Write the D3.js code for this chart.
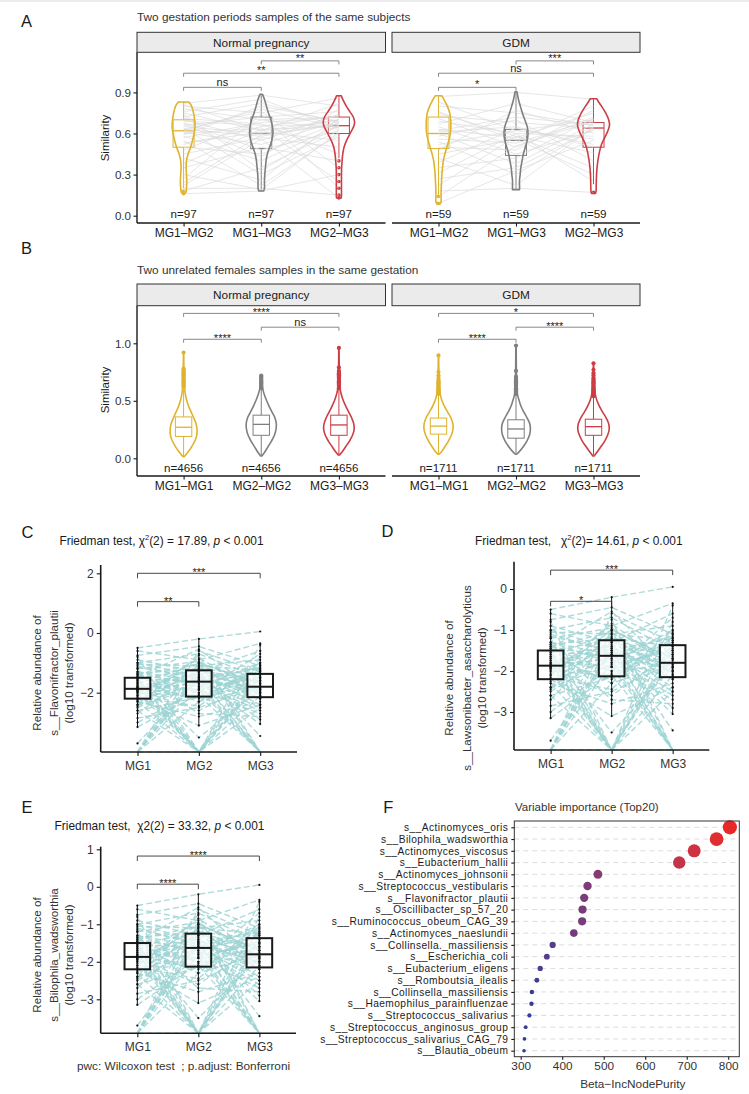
<!DOCTYPE html>
<html><head><meta charset="utf-8">
<script src="https://cdn.jsdelivr.net/npm/d3@7/dist/d3.min.js"></script>
<style>
body{margin:0;background:#fff;}
svg text{font-family:"Liberation Sans",Arial,Helvetica,sans-serif;}
</style></head><body>
<svg id="fig" width="749" height="1094" xmlns="http://www.w3.org/2000/svg"></svg>
<script>
// ================= DATA =================
const facetNames = ["Normal pregnancy", "GDM"];
const groupsA = ["MG1–MG2", "MG1–MG3", "MG2–MG3"];
const groupsB = ["MG1–MG1", "MG2–MG2", "MG3–MG3"];
const nCountsA = [97, 59];
const nCountsB = [4656, 1711];
const ticksA = [0, 0.3, 0.6, 0.9];
const ticksB = [0, 0.5, 1.0];
const groupColors = ["#DFB32E", "#7F7F7F", "#CC3D44"];

// Panel A paired similarity values (subset of subjects), Normal pregnancy
const pairN1 = [0.82,0.80,0.78,0.75,0.72,0.70,0.69,0.68,0.66,0.65,0.64,0.63,0.62,0.61,0.60,0.58,0.57,0.55,0.53,0.50,0.48,0.45,0.42,0.38,0.35,0.30,0.27,0.24,0.20,0.18,0.16,0.76,0.67,0.71,0.59,0.22,0.81,0.74,0.63,0.52];
const pairN2 = [0.88,0.75,0.70,0.62,0.82,0.55,0.66,0.48,0.72,0.60,0.30,0.58,0.78,0.52,0.64,0.40,0.68,0.22,0.61,0.45,0.70,0.57,0.26,0.63,0.50,0.19,0.74,0.59,0.20,0.35,0.18,0.85,0.43,0.67,0.80,0.56,0.62,0.33,0.76,0.65];
const pairN3 = [0.80,0.86,0.72,0.70,0.68,0.74,0.66,0.62,0.76,0.70,0.58,0.67,0.64,0.69,0.25,0.66,0.72,0.60,0.55,0.68,0.63,0.50,0.71,0.65,0.40,0.61,0.20,0.67,0.15,0.62,0.30,0.64,0.78,0.45,0.69,0.13,0.82,0.66,0.35,0.73];
// GDM
const pairG1 = [0.87,0.83,0.80,0.76,0.73,0.71,0.69,0.67,0.65,0.63,0.61,0.60,0.58,0.56,0.54,0.52,0.50,0.48,0.45,0.42,0.39,0.35,0.31,0.27,0.22,0.18,0.14,0.09,0.75,0.62];
const pairG2 = [0.90,0.62,0.75,0.55,0.68,0.50,0.60,0.82,0.45,0.57,0.65,0.38,0.70,0.53,0.30,0.62,0.48,0.77,0.56,0.22,0.64,0.42,0.60,0.35,0.58,0.20,0.51,0.33,0.58,0.72];
const pairG3 = [0.85,0.70,0.66,0.80,0.64,0.72,0.58,0.68,0.62,0.75,0.50,0.67,0.40,0.70,0.64,0.56,0.77,0.60,0.30,0.65,0.52,0.71,0.25,0.63,0.46,0.17,0.69,0.55,0.35,0.66];

// Violin density profiles [value, relative density]
const vioAN1 = [[0.16,0.05],[0.17,0.14],[0.20,0.18],[0.25,0.2],[0.30,0.18],[0.35,0.16],[0.40,0.18],[0.45,0.28],[0.50,0.44],[0.55,0.56],[0.60,0.66],[0.65,0.72],[0.70,0.69],[0.75,0.62],[0.80,0.5],[0.83,0.33]];
const vioAN2 = [[0.18,0.15],[0.20,0.2],[0.25,0.2],[0.30,0.22],[0.35,0.26],[0.40,0.3],[0.45,0.38],[0.50,0.52],[0.55,0.66],[0.60,0.73],[0.65,0.7],[0.70,0.6],[0.75,0.45],[0.80,0.32],[0.85,0.2],[0.886,0.08]];
const vioAN3 = [[0.13,0.15],[0.15,0.16],[0.20,0.16],[0.25,0.16],[0.30,0.16],[0.35,0.17],[0.40,0.2],[0.45,0.24],[0.50,0.32],[0.55,0.48],[0.60,0.7],[0.65,0.92],[0.68,0.98],[0.72,0.9],[0.76,0.68],[0.80,0.46],[0.84,0.28],[0.876,0.14]];
const vioAG1 = [[0.085,0.1],[0.10,0.16],[0.15,0.16],[0.20,0.17],[0.25,0.19],[0.30,0.21],[0.35,0.25],[0.40,0.3],[0.45,0.4],[0.50,0.52],[0.55,0.65],[0.60,0.74],[0.65,0.77],[0.70,0.76],[0.75,0.7],[0.80,0.55],[0.84,0.38],[0.876,0.2]];
const vioAG2 = [[0.19,0.22],[0.22,0.22],[0.26,0.22],[0.30,0.26],[0.35,0.3],[0.40,0.38],[0.45,0.46],[0.50,0.58],[0.55,0.7],[0.60,0.75],[0.65,0.7],[0.70,0.55],[0.75,0.4],[0.80,0.27],[0.85,0.15],[0.905,0.06]];
const vioAG3 = [[0.163,0.12],[0.18,0.16],[0.22,0.17],[0.27,0.18],[0.32,0.2],[0.37,0.24],[0.42,0.3],[0.47,0.38],[0.52,0.5],[0.57,0.7],[0.62,0.9],[0.66,1.0],[0.70,0.95],[0.75,0.76],[0.80,0.5],[0.83,0.32],[0.854,0.2]];
const vioBN1 = [[0.015,0.05],[0.05,0.25],[0.10,0.5],[0.15,0.7],[0.20,0.82],[0.25,0.84],[0.30,0.78],[0.35,0.64],[0.40,0.48],[0.45,0.32],[0.50,0.2],[0.55,0.12],[0.60,0.07],[0.70,0.04],[0.80,0.02],[0.92,0.01]];
const vioBN2 = [[0.02,0.04],[0.05,0.2],[0.10,0.42],[0.15,0.64],[0.20,0.82],[0.25,0.92],[0.30,0.94],[0.35,0.86],[0.40,0.68],[0.45,0.5],[0.50,0.34],[0.55,0.2],[0.60,0.1],[0.65,0.05],[0.72,0.02]];
const vioBN3 = [[0.03,0.04],[0.06,0.22],[0.10,0.42],[0.15,0.66],[0.20,0.85],[0.25,0.95],[0.30,0.93],[0.35,0.8],[0.40,0.62],[0.45,0.44],[0.50,0.28],[0.55,0.16],[0.60,0.08],[0.70,0.04],[0.80,0.02],[0.96,0.01]];
const vioBG1 = [[0.035,0.04],[0.06,0.2],[0.10,0.4],[0.15,0.62],[0.20,0.8],[0.25,0.9],[0.30,0.9],[0.35,0.78],[0.40,0.58],[0.45,0.38],[0.50,0.22],[0.55,0.12],[0.60,0.07],[0.70,0.04],[0.80,0.02],[0.895,0.01]];
const vioBG2 = [[0.035,0.04],[0.06,0.22],[0.10,0.45],[0.15,0.68],[0.20,0.84],[0.25,0.9],[0.30,0.86],[0.35,0.7],[0.40,0.5],[0.45,0.32],[0.50,0.2],[0.55,0.1],[0.60,0.06],[0.70,0.03],[0.80,0.02],[0.98,0.01]];
const vioBG3 = [[0.02,0.04],[0.05,0.2],[0.10,0.46],[0.15,0.7],[0.20,0.88],[0.25,0.98],[0.30,0.95],[0.35,0.8],[0.40,0.58],[0.45,0.38],[0.50,0.22],[0.55,0.12],[0.60,0.07],[0.70,0.03],[0.826,0.01]];

// Box stats [q1, median, q3, lower whisker, upper whisker]
const boxAN = [[0.50,0.62,0.70,0.20,0.83],[0.49,0.60,0.72,0.18,0.886],[0.60,0.657,0.72,0.42,0.876]];
const boxAG = [[0.49,0.60,0.72,0.145,0.876],[0.44,0.55,0.63,0.19,0.905],[0.50,0.64,0.68,0.23,0.854]];
const boxBN = [[0.19,0.27,0.36,0.02,0.60],[0.20,0.295,0.375,0.02,0.60],[0.20,0.29,0.375,0.03,0.60]];
const boxBG = [[0.21,0.28,0.35,0.04,0.55],[0.175,0.255,0.335,0.04,0.55],[0.20,0.275,0.34,0.03,0.53]];

// Panel B outliers
const outBN1 = [0.62,0.63,0.64,0.65,0.66,0.67,0.68,0.69,0.70,0.71,0.72,0.73,0.74,0.75,0.76,0.77,0.78,0.92];
const outBN2 = [0.61,0.62,0.63,0.64,0.65,0.66,0.67,0.68,0.69,0.70,0.71,0.72];
const outBN3 = [0.61,0.62,0.63,0.64,0.65,0.66,0.67,0.68,0.69,0.70,0.71,0.72,0.73,0.74,0.75,0.76,0.79,0.96];
const outBG1 = [0.56,0.57,0.58,0.59,0.60,0.61,0.62,0.63,0.64,0.65,0.66,0.67,0.68,0.70,0.72,0.75,0.895];
const outBG2 = [0.56,0.57,0.58,0.59,0.60,0.61,0.62,0.63,0.64,0.65,0.66,0.67,0.68,0.69,0.71,0.76,0.98];
const outBG3 = [0.54,0.55,0.56,0.57,0.58,0.59,0.60,0.61,0.62,0.63,0.64,0.65,0.66,0.67,0.68,0.69,0.70,0.72,0.74,0.77,0.826];

// Significance brackets [fromIdx, toIdx, yValue, label]
const sigAN = [[0,1,0.937,"ns"],[0,2,1.04,"**"],[1,2,1.13,"**"]];
const sigAG = [[0,1,0.937,"*"],[0,2,1.04,"ns"],[1,2,1.13,"***"]];
const sigBN = [[0,1,1.035,"****"],[1,2,1.14,"ns"],[0,2,1.26,"****"]];
const sigBG = [[0,1,1.035,"****"],[1,2,1.14,"****"],[0,2,1.26,"*"]];

// Panels C/D/E: paired log10 relative abundance (null = zero abundance)
const stages = ["MG1", "MG2", "MG3"];
const abMG1 = [-0.5,-0.6,-0.75,-0.9,-1.0,-1.05,-1.15,-1.2,-1.3,-1.35,-1.4,-1.45,-1.5,-1.55,-1.6,-1.65,-1.7,-1.75,-1.8,-1.82,-1.85,-1.88,-1.9,-1.92,-1.95,-2.0,-2.05,-2.1,-2.15,-2.2,-2.25,-2.3,-2.4,-2.5,-2.6,-2.7,-2.85,-3.0,-3.15,-3.7,null,null,null,null,null,null,-1.6,-1.2,-1.9,-2.3,-0.8,-1.5,-2.0,-2.6,-1.75,-1.4,-2.1,-1.85,-1.0,-2.4,-1.65,-1.3,-2.2,-1.55,-1.95,-1.45,-1.7,-2.45,-1.35,-1.1,null,-1.8,null];
const abMG2 = [-0.2,-0.9,-0.45,-1.3,-0.7,-1.1,-1.5,-0.95,-1.8,-1.2,-1.05,-2.0,-1.25,-1.6,-2.3,-1.4,-1.0,-1.9,-1.55,-2.2,-1.35,-1.7,-2.6,-1.15,-1.65,-2.1,-1.45,-0.85,-2.45,-1.75,-1.3,-2.8,-1.85,-1.6,-2.15,-1.2,-2.5,-1.9,-2.05,-1.5,-1.0,-1.4,-0.6,-1.8,-2.3,-1.25,null,null,null,null,null,null,null,null,null,-1.7,-1.0,-2.1,-1.45,-0.75,-1.9,-1.6,-3.1,-3.5,-1.3,-0.55,-2.0,-1.1,-2.7,-1.55,null,null,-1.5];
const abMG3 = [0.05,-0.35,-1.1,-0.6,-1.5,-0.9,-1.2,-1.9,-1.0,-1.4,-2.1,-1.3,-1.6,-1.15,-1.8,-2.4,-1.7,-1.45,-2.0,-1.25,-1.85,-2.6,-1.55,-2.2,-1.35,-1.75,-2.9,-1.9,-1.05,-2.15,-1.65,-2.3,-1.5,-2.5,-1.2,-2.05,-1.8,-2.7,-1.6,-2.0,-1.7,-2.2,-1.3,null,-1.0,-1.95,-1.4,-2.1,-1.1,-1.7,-0.4,-2.5,-1.5,null,-0.8,null,null,null,null,null,null,-3.05,-2.4,-1.9,-3.45,-2.0,-0.7,-1.25,-2.8,-1.85,-1.6,null,null];
const boxCDE = [[-2.2,-1.87,-1.5,-3.15,-0.5],[-2.13,-1.63,-1.25,-3.1,-0.2],[-2.15,-1.8,-1.37,-3.05,-0.35]];
const ticksC = [-2, 0, 2];
const ticksD = [-3, -2, -1, 0];
const ticksE = [-3, -2, -1, 0, 1];
const sigC = [[0,1,1.05,"**"],[0,2,2.0,"***"]];
const sigD = [[0,1,-0.3,"*"],[0,2,0.46,"***"]];
const sigE = [[0,1,0.07,"****"],[0,2,0.82,"****"]];
const titleC = [["Friedman test, χ",""],["2","sup"],["(2) = 17.89, ",""],["p","it"],[" < 0.001",""]];
const titleD = [["Friedman test,   χ",""],["2","sup"],["(2)= 14.61, ",""],["p","it"],[" < 0.001",""]];
const titleE = [["Friedman test,  χ2(2) = 33.32, ",""],["p","it"],[" < 0.001",""]];
const yTitleC = ["Relative abundance of", "s__Flavonifractor_plautii", "(log10 transformed)"];
const yTitleD = ["Relative abundance of", "s__Lawsonibacter_asaccharolyticus", "(log10 transformed)"];
const yTitleE = ["Relative abundance of", "s__Bilophila_wadsworthia", "(log10 transformed)"];

// Panel F: variable importance
const featNames = ["s__Actinomyces_oris","s__Bilophila_wadsworthia","s__Actinomyces_viscosus","s__Eubacterium_hallii","s__Actinomyces_johnsonii","s__Streptococcus_vestibularis","s__Flavonifractor_plautii","s__Oscillibacter_sp_57_20","s__Ruminococcus_obeum_CAG_39","s__Actinomyces_naeslundii","s__Collinsella._massiliensis","s__Escherichia_coli","s__Eubacterium_eligens","s__Romboutsia_ilealis","s__Collinsella_massiliensis","s__Haemophilus_parainfluenzae","s__Streptococcus_salivarius","s__Streptococcus_anginosus_group","s__Streptococcus_salivarius_CAG_79","s__Blautia_obeum"];
const featValues = [804,772,718,682,486,461,453,449,448,428,377,363,347,339,327,326,321,312,309,308];
const ticksF = [300,400,500,600,700,800];

// ================= DRAWING =================
const svg = d3.select("#fig");
const DARK = "#1a1a1a";

function addText(g, x, y, s, o = {}) {
  return g.append("text").attr("x", x).attr("y", y)
    .attr("font-size", o.size || 11.5).attr("fill", o.fill || DARK)
    .attr("text-anchor", o.anchor || "start").text(s);
}
function styleAxis(ax, size, color) {
  ax.attr("font-family", null).attr("font-size", size);
  ax.select(".domain").remove();
  ax.selectAll(".tick line").attr("stroke", DARK).attr("stroke-width", 1.1);
  ax.selectAll(".tick text").attr("fill", color).attr("font-size", size);
}
function bracket(g, x, y, s, o) {
  const x1 = x(o.groups[s[0]]), x2 = x(o.groups[s[1]]), yy = y(s[2]);
  g.append("path").attr("d", `M${x1},${yy + o.tip}V${yy}H${x2}V${yy + o.tip}`)
    .attr("fill", "none").attr("stroke", o.color).attr("stroke-width", 0.9);
  const star = s[3].indexOf("*") >= 0;
  g.append("text").attr("x", (x1 + x2) / 2).attr("y", star ? yy + o.starDy : yy - 1.5)
    .attr("text-anchor", "middle").attr("font-size", 11).attr("fill", DARK).text(s[3]);
}

svg.append("rect").attr("x", 0).attr("y", 0).attr("width", 749).attr("height", 2).attr("fill", "#ececec");

const facetX = [[137, 385.5], [392, 640]];
const wScale = d3.scaleLinear().domain([0, 1]).range([0, 16]);

function drawSimilarity(cfg) {
  const g = svg.append("g");
  addText(g, 21, cfg.letterY, cfg.letter, { size: 16.5 });
  addText(g, 137, cfg.titleY, cfg.title, { size: 11.8, fill: "#333" });
  const y = d3.scaleLinear().domain(cfg.yDomain).range(cfg.yRange);
  g.append("line").attr("x1", facetX[0][0]).attr("x2", facetX[0][0])
    .attr("y1", cfg.stripBottom).attr("y2", cfg.axisBottom).attr("stroke", DARK).attr("stroke-width", 1.4);
  const ay = g.append("g").attr("transform", `translate(${facetX[0][0]},0)`)
    .call(d3.axisLeft(y).tickValues(cfg.ticks).tickFormat(d3.format(".1f")).tickSize(3.5).tickPadding(2.5));
  styleAxis(ay, 11.6, "#333");
  g.append("text").attr("transform", `translate(${cfg.yTitleX},${cfg.yTitleY}) rotate(-90)`)
    .attr("text-anchor", "middle").attr("dominant-baseline", "central")
    .attr("font-size", 11.5).attr("fill", DARK).text("Similarity");

  cfg.facets.forEach((f, i) => {
    const [x0, x1] = facetX[i];
    const x = d3.scalePoint().domain(cfg.groups).range([x0, x1]).padding(0.6);
    g.append("rect").attr("x", x0).attr("y", cfg.stripTop).attr("width", x1 - x0)
      .attr("height", cfg.stripBottom - cfg.stripTop).attr("fill", "#EBEBEB").attr("stroke", "#333").attr("stroke-width", 1);
    addText(g, (x0 + x1) / 2, cfg.stripTextY, facetNames[i], { size: 11.8, anchor: "middle" });
    g.append("line").attr("x1", x0).attr("x2", x1).attr("y1", cfg.axisBottom).attr("y2", cfg.axisBottom)
      .attr("stroke", DARK).attr("stroke-width", 1.4);
    const ax = g.append("g").attr("transform", `translate(0,${cfg.axisBottom})`)
      .call(d3.axisBottom(x).tickSize(3.5).tickPadding(2));
    styleAxis(ax, 12, DARK);

    const pl = g.append("g");
    cfg.groups.forEach((gr, j) => {
      const cx = x(gr), b = f.boxes[j], col = groupColors[j];
      const bh = cfg.boxHalf;
      pl.append("rect").attr("x", cx - bh).attr("y", y(b[2])).attr("width", 2 * bh)
        .attr("height", y(b[0]) - y(b[2])).attr("fill", "none").attr("stroke", col).attr("stroke-width", 1);
      pl.append("line").attr("x1", cx - bh).attr("x2", cx + bh).attr("y1", y(b[1])).attr("y2", y(b[1]))
        .attr("stroke", col).attr("stroke-width", 1.3);
      pl.append("line").attr("x1", cx).attr("x2", cx).attr("y1", y(b[2])).attr("y2", y(b[4])).attr("stroke", col).attr("stroke-width", 1);
      pl.append("line").attr("x1", cx).attr("x2", cx).attr("y1", y(b[0])).attr("y2", y(b[3])).attr("stroke", col).attr("stroke-width", 1);
      const outs = f.outliers ? f.outliers[j] : f.pairs[j].filter(v => v < b[3] || v > b[4]);
      pl.selectAll(null).data(outs).join("circle").attr("cx", cx).attr("cy", d => y(d))
        .attr("r", cfg.outR).attr("fill", col);
    });
    if (f.pairs) {
      const n = f.pairs[0].length;
      const line = d3.line().x(d => x(cfg.groups[d[0]])).y(d => y(d[1]));
      const subj = d3.range(n).map(k => f.pairs.map((arr, j) => [j, arr[k]]));
      pl.selectAll(null).data(subj).join("path").attr("d", line)
        .attr("fill", "none").attr("stroke", "#D9D9D9").attr("stroke-opacity", 0.75).attr("stroke-width", 0.9);
    }
    cfg.groups.forEach((gr, j) => {
      const cx = x(gr);
      const area = d3.area().curve(d3.curveCatmullRom.alpha(0.5))
        .y(d => y(d[0])).x0(d => cx - wScale(d[1])).x1(d => cx + wScale(d[1]));
      pl.append("path").attr("d", area(f.violins[j])).attr("fill", "none")
        .attr("stroke", groupColors[j]).attr("stroke-width", 1.6).attr("stroke-linejoin", "round");
      addText(pl, cx, cfg.nLabelY, "n=" + f.n, { size: 11.6, anchor: "middle" });
    });
    f.sig.forEach(s => bracket(pl, x, y, s, { groups: cfg.groups, tip: 3.5, color: "#7a7a7a", starDy: cfg.starDy }));
  });
}

drawSimilarity({
  letter: "A", letterY: 26.5, title: "Two gestation periods samples of the same subjects", titleY: 21,
  stripTop: 32.3, stripBottom: 52.3, stripTextY: 46.5, axisBottom: 223,
  yDomain: [0, 0.9], yRange: [215.7, 92.4], ticks: ticksA, yTitleX: 105, yTitleY: 138,
  groups: groupsA, boxHalf: 10.5, outR: 1.8, nLabelY: 218.3, starDy: 1,
  facets: [
    { n: nCountsA[0], violins: [vioAN1, vioAN2, vioAN3], boxes: boxAN, pairs: [pairN1, pairN2, pairN3], sig: sigAN },
    { n: nCountsA[1], violins: [vioAG1, vioAG2, vioAG3], boxes: boxAG, pairs: [pairG1, pairG2, pairG3], sig: sigAG }
  ]
});
drawSimilarity({
  letter: "B", letterY: 254, title: "Two unrelated females samples in the same gestation", titleY: 273.5,
  stripTop: 284, stripBottom: 305.7, stripTextY: 298.5, axisBottom: 476,
  yDomain: [0, 1], yRange: [458.3, 343.3], ticks: ticksB, yTitleX: 105, yTitleY: 390,
  groups: groupsB, boxHalf: 8.2, outR: 2.1, nLabelY: 471.7, starDy: 2.5,
  facets: [
    { n: nCountsB[0], violins: [vioBN1, vioBN2, vioBN3], boxes: boxBN, outliers: [outBN1, outBN2, outBN3], sig: sigBN },
    { n: nCountsB[1], violins: [vioBG1, vioBG2, vioBG3], boxes: boxBG, outliers: [outBG1, outBG2, outBG3], sig: sigBG }
  ]
});

function minusFmt(d) { return d < 0 ? "\u2212" + Math.abs(d) : String(d); }

function drawPaired(cfg) {
  const g = svg.append("g");
  addText(g, cfg.letterX, cfg.letterY, cfg.letter, { size: 16.5 });
  const t = g.append("text").attr("x", cfg.titleX).attr("y", cfg.titleY).attr("text-anchor", "middle")
    .attr("font-size", 11.9).attr("fill", DARK).style("white-space", "pre");
  cfg.title.forEach((p, i) => {
    const ts = t.append("tspan").text(p[0]);
    if (p[1] === "sup") ts.attr("font-size", 7.5).attr("dy", -4.5);
    else if (p[1] === "it") ts.attr("font-style", "italic");
    if (i > 0 && cfg.title[i - 1][1] === "sup") ts.attr("dy", 4.5);
  });
  const x = d3.scalePoint().domain(stages).range([cfg.left, cfg.right]).padding(0.6);
  const y = d3.scaleLinear().domain(cfg.yDomain).range(cfg.yRange);
  const yv = v => v === null ? cfg.bottom : y(v);
  const series = [abMG1, abMG2, abMG3];
  const pl = g.append("g");
  const line = d3.line().x(d => x(stages[d[0]])).y(d => yv(d[1]));
  const subj = d3.range(abMG1.length).map(k => series.map((arr, j) => [j, arr[k]]));
  pl.selectAll(null).data(subj).join("path").attr("d", line)
    .attr("fill", "none").attr("stroke", "#9FD3D3").attr("stroke-opacity", 0.85)
    .attr("stroke-width", 1.4).attr("stroke-dasharray", "6,3");
  stages.forEach((s, j) => {
    const cx = x(s), b = boxCDE[j], bh = 12.8;
    pl.append("line").attr("x1", cx).attr("x2", cx).attr("y1", y(b[3])).attr("y2", y(b[4]))
      .attr("stroke", "#111").attr("stroke-width", 1);
    pl.append("rect").attr("x", cx - bh).attr("y", y(b[2])).attr("width", 2 * bh).attr("height", y(b[0]) - y(b[2]))
      .attr("fill", "#fff").attr("fill-opacity", 0.7).attr("stroke", "#1a1a1a").attr("stroke-width", 2);
    pl.append("line").attr("x1", cx - bh).attr("x2", cx + bh).attr("y1", y(b[1])).attr("y2", y(b[1]))
      .attr("stroke", "#1a1a1a").attr("stroke-width", 2);
    const vals = series[j].filter(v => v !== null);
    pl.selectAll(null).data(vals).join("circle").attr("cx", cx).attr("cy", d => y(d)).attr("r", 1.1).attr("fill", "#111");
  });
  g.append("line").attr("x1", cfg.left).attr("x2", cfg.left).attr("y1", cfg.top).attr("y2", cfg.bottom)
    .attr("stroke", DARK).attr("stroke-width", 1.6);
  g.append("line").attr("x1", cfg.left).attr("x2", cfg.right).attr("y1", cfg.bottom).attr("y2", cfg.bottom)
    .attr("stroke", DARK).attr("stroke-width", 1.6);
  const ay = g.append("g").attr("transform", `translate(${cfg.left},0)`)
    .call(d3.axisLeft(y).tickValues(cfg.ticks).tickFormat(minusFmt).tickSize(4).tickPadding(3));
  styleAxis(ay, 12, "#333");
  const ax = g.append("g").attr("transform", `translate(0,${cfg.bottom})`)
    .call(d3.axisBottom(x).tickSize(4).tickPadding(5));
  styleAxis(ax, 12, "#333");
  cfg.sig.forEach(s => bracket(pl, x, y, s, { groups: stages, tip: 5, color: "#333", starDy: 3 }));
  cfg.yTitle.forEach((s, i) => {
    g.append("text").attr("transform", `translate(${cfg.yTitleX[i]},${cfg.yTitleY}) rotate(-90)`)
      .attr("text-anchor", "middle").attr("dominant-baseline", "central")
      .attr("font-size", 11.6).attr("fill", "#333").text(s);
  });
}

drawPaired({
  letter: "C", letterX: 21.5, letterY: 537.5, title: titleC, titleX: 161.5, titleY: 544.5,
  left: 100.7, right: 297, top: 565, bottom: 752, yDomain: [-2, 2], yRange: [692.7, 573.3],
  ticks: ticksC, sig: sigC, yTitle: yTitleC, yTitleX: [36.7, 53.3, 68.3], yTitleY: 673
});
drawPaired({
  letter: "D", letterX: 381.5, letterY: 537, title: titleD, titleX: 578.8, titleY: 544.5,
  left: 514, right: 709.3, top: 561.7, bottom: 750, yDomain: [-3, 0], yRange: [712, 589],
  ticks: ticksD, sig: sigD, yTitle: yTitleD, yTitleX: [448.7, 466.7, 481.7], yTitleY: 678
});
drawPaired({
  letter: "E", letterX: 21.5, letterY: 813.3, title: titleE, titleX: 159.5, titleY: 829.5,
  left: 100.7, right: 296, top: 846.7, bottom: 1033.3, yDomain: [-3, 1], yRange: [999.3, 849.3],
  ticks: ticksE, sig: sigE, yTitle: yTitleE, yTitleX: [36.7, 53.3, 68.3], yTitleY: 955
});
addText(svg, 77, 1070, "pwc: Wilcoxon test  ; p.adjust: Bonferroni", { size: 11.8, fill: "#333" }).style("white-space", "pre");

// Panel F
(function () {
  const g = svg.append("g");
  addText(g, 383.3, 813.3, "F", { size: 16.5 });
  addText(g, 515, 811, "Variable importance (Top20)", { size: 11.5, fill: "#333" });
  const L = 514.3, R = 739.3, T = 821, B = 1056.7;
  const fx = d3.scaleLinear().domain([284.6, 826.7]).range([L, R]);
  const fy = d3.scalePoint().domain(featNames).range([827.3, 1050.7]);
  const fr = d3.scaleRadial().domain([308, 804]).range([1.8, 7.1]);
  const fc = d3.scaleLinear().domain([308, 804]).range(["#2C3C99", "#E8292A"]).interpolate(d3.interpolateLab);
  g.selectAll(null).data(featNames).join("line").attr("x1", L).attr("x2", R)
    .attr("y1", d => fy(d)).attr("y2", d => fy(d)).attr("stroke", "#DCDCDC").attr("stroke-width", 1).attr("stroke-dasharray", "5,4");
  const pts = featNames.map((n, i) => ({ n, v: featValues[i] }));
  g.selectAll(null).data(pts.slice().reverse()).join("circle").attr("cx", d => fx(d.v)).attr("cy", d => fy(d.n))
    .attr("r", d => fr(d.v)).attr("fill", d => fc(d.v));
  g.append("rect").attr("x", L).attr("y", T).attr("width", R - L).attr("height", B - T)
    .attr("fill", "none").attr("stroke", "#333").attr("stroke-width", 1);
  const ay = g.append("g").attr("transform", `translate(${L},0)`).call(d3.axisLeft(fy).tickSize(3).tickPadding(3));
  styleAxis(ay, 10.2, DARK);
  ay.selectAll(".tick text").attr("letter-spacing", 0.42);
  const ax = g.append("g").attr("transform", `translate(0,${B})`).call(d3.axisBottom(fx).tickValues(ticksF).tickSize(3).tickPadding(2));
  styleAxis(ax, 11.8, "#333");
  addText(g, (L + R) / 2 + 6, 1088, "Beta\u2212IncNodePurity", { size: 11.8, anchor: "middle", fill: "#333" });
})();
</script>
</body></html>
